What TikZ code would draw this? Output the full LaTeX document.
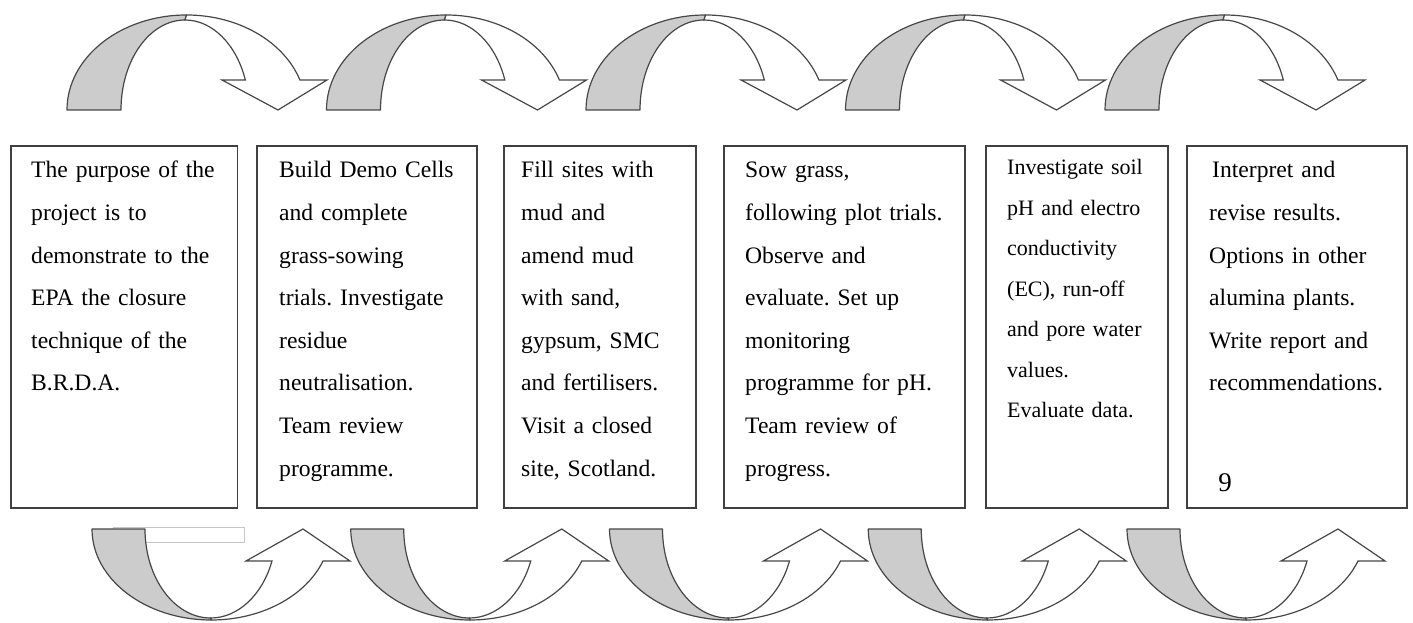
\documentclass[tikz,border=0pt]{standalone}
\usepackage{fontspec}
\setmainfont{Liberation Serif}
\begin{document}
\frenchspacing
\begin{tikzpicture}[x=1pt,y=1pt,
  stagebox/.style={draw=black!75, line width=1.3pt, fill=white, rectangle, inner sep=0pt},
  stagetext/.style={inner sep=0pt, anchor=base west, align=left, text width=230pt,
    font=\fontsize{23.6}{42.6}\selectfont},
  smalltext/.style={stagetext, font=\fontsize{22}{40.5}\selectfont},
  bandback/.style={draw=black!72, line width=1.2pt, fill=black!20, line join=round},
  bandfront/.style={draw=black!72, line width=1.2pt, fill=white, line join=miter},
]
\useasboundingbox (0,0) rectangle (1413,623);

% ---- curved arrows over the stages ----
\foreach \k in {0,...,4}{
  \pgfmathsetmacro{\xo}{67+259.5*\k}
  \begin{scope}[shift={(\xo,0)}]
    \path[bandback] (0,513) arc[start angle=180, end angle=90, x radius=119.5, y radius=95]
      -- (118,603) arc[start angle=90, end angle=180, x radius=64, y radius=90] -- cycle;
    \path[bandfront] (118,603) arc[start angle=90, end angle=19.47, x radius=64, y radius=90]
      -- (155,543) -- (211,513) -- (260,543) -- (232.9,543)
      arc[start angle=18.41, end angle=90, x radius=119.5, y radius=95] -- cycle;
  \end{scope}
}

% ---- empty frame near the first lower arrow ----
\draw[black!22, line width=0.8pt] (113,96) rectangle (244,81);

% ---- curved arrows under the stages ----
\foreach \k in {0,...,4}{
  \pgfmathsetmacro{\xo}{92+258.75*\k}
  \begin{scope}[shift={(\xo,0)}]
    \path[bandback] (0,94) arc[start angle=180, end angle=270, x radius=119.3, y radius=91]
      -- (118.7,5) arc[start angle=270, end angle=180, x radius=65.7, y radius=89] -- cycle;
    \path[bandfront] (118.7,5) arc[start angle=270, end angle=338.9, x radius=65.7, y radius=89]
      -- (154,62) -- (211,94) -- (258,62) -- (231,62)
      arc[start angle=339.41, end angle=270, x radius=119.3, y radius=91] -- cycle;
  \end{scope}
}

% ---- stage boxes ----
\node[stagebox, minimum width=226.5pt, minimum height=362pt] (s1) at (124.25,296) {};
\node[stagebox, minimum width=220pt,   minimum height=362pt] (s2) at (367,296) {};
\node[stagebox, minimum width=192pt,   minimum height=362pt] (s3) at (600,296) {};
\node[stagebox, minimum width=241pt,   minimum height=362pt] (s4) at (844.5,296) {};
\node[stagebox, minimum width=182pt,   minimum height=362pt] (s5) at (1077,296) {};
\node[stagebox, minimum width=220pt,   minimum height=362pt] (s6) at (1297,296) {};

% ---- stage texts ----
\node[stagetext] (t1) at (31,445) {The purpose of the\\project is to\\demonstrate to the\\EPA the closure\\technique of the\\B.R.D.A.};
\node[stagetext] (t2) at (279,445) {Build Demo Cells\\and complete\\grass-sowing\\trials. Investigate\\residue\\neutralisation.\\Team review\\programme.};
\node[stagetext] (t3) at (521,445) {Fill sites with\\mud and\\amend mud\\with sand,\\gypsum, SMC\\and fertilisers.\\Visit a closed\\site, Scotland.};
\node[stagetext] (t4) at (745,445) {Sow grass,\\following plot trials.\\Observe and\\evaluate. Set up\\monitoring\\programme for pH.\\Team review of\\progress.};
\node[smalltext] (t5) at (1007,448) {Investigate soil\\pH and electro\\conductivity\\(EC), run-off\\and pore water\\values.\\Evaluate data.};
\node[stagetext] (t6) at (1209,445) {\hspace{3pt}Interpret and\\revise results.\\Options in other\\alumina plants.\\Write report and\\recommendations.};
\node[inner sep=0pt, anchor=base, font=\fontsize{27}{30}\selectfont] (pg) at (1225,131) {9};
\end{tikzpicture}
\end{document}
